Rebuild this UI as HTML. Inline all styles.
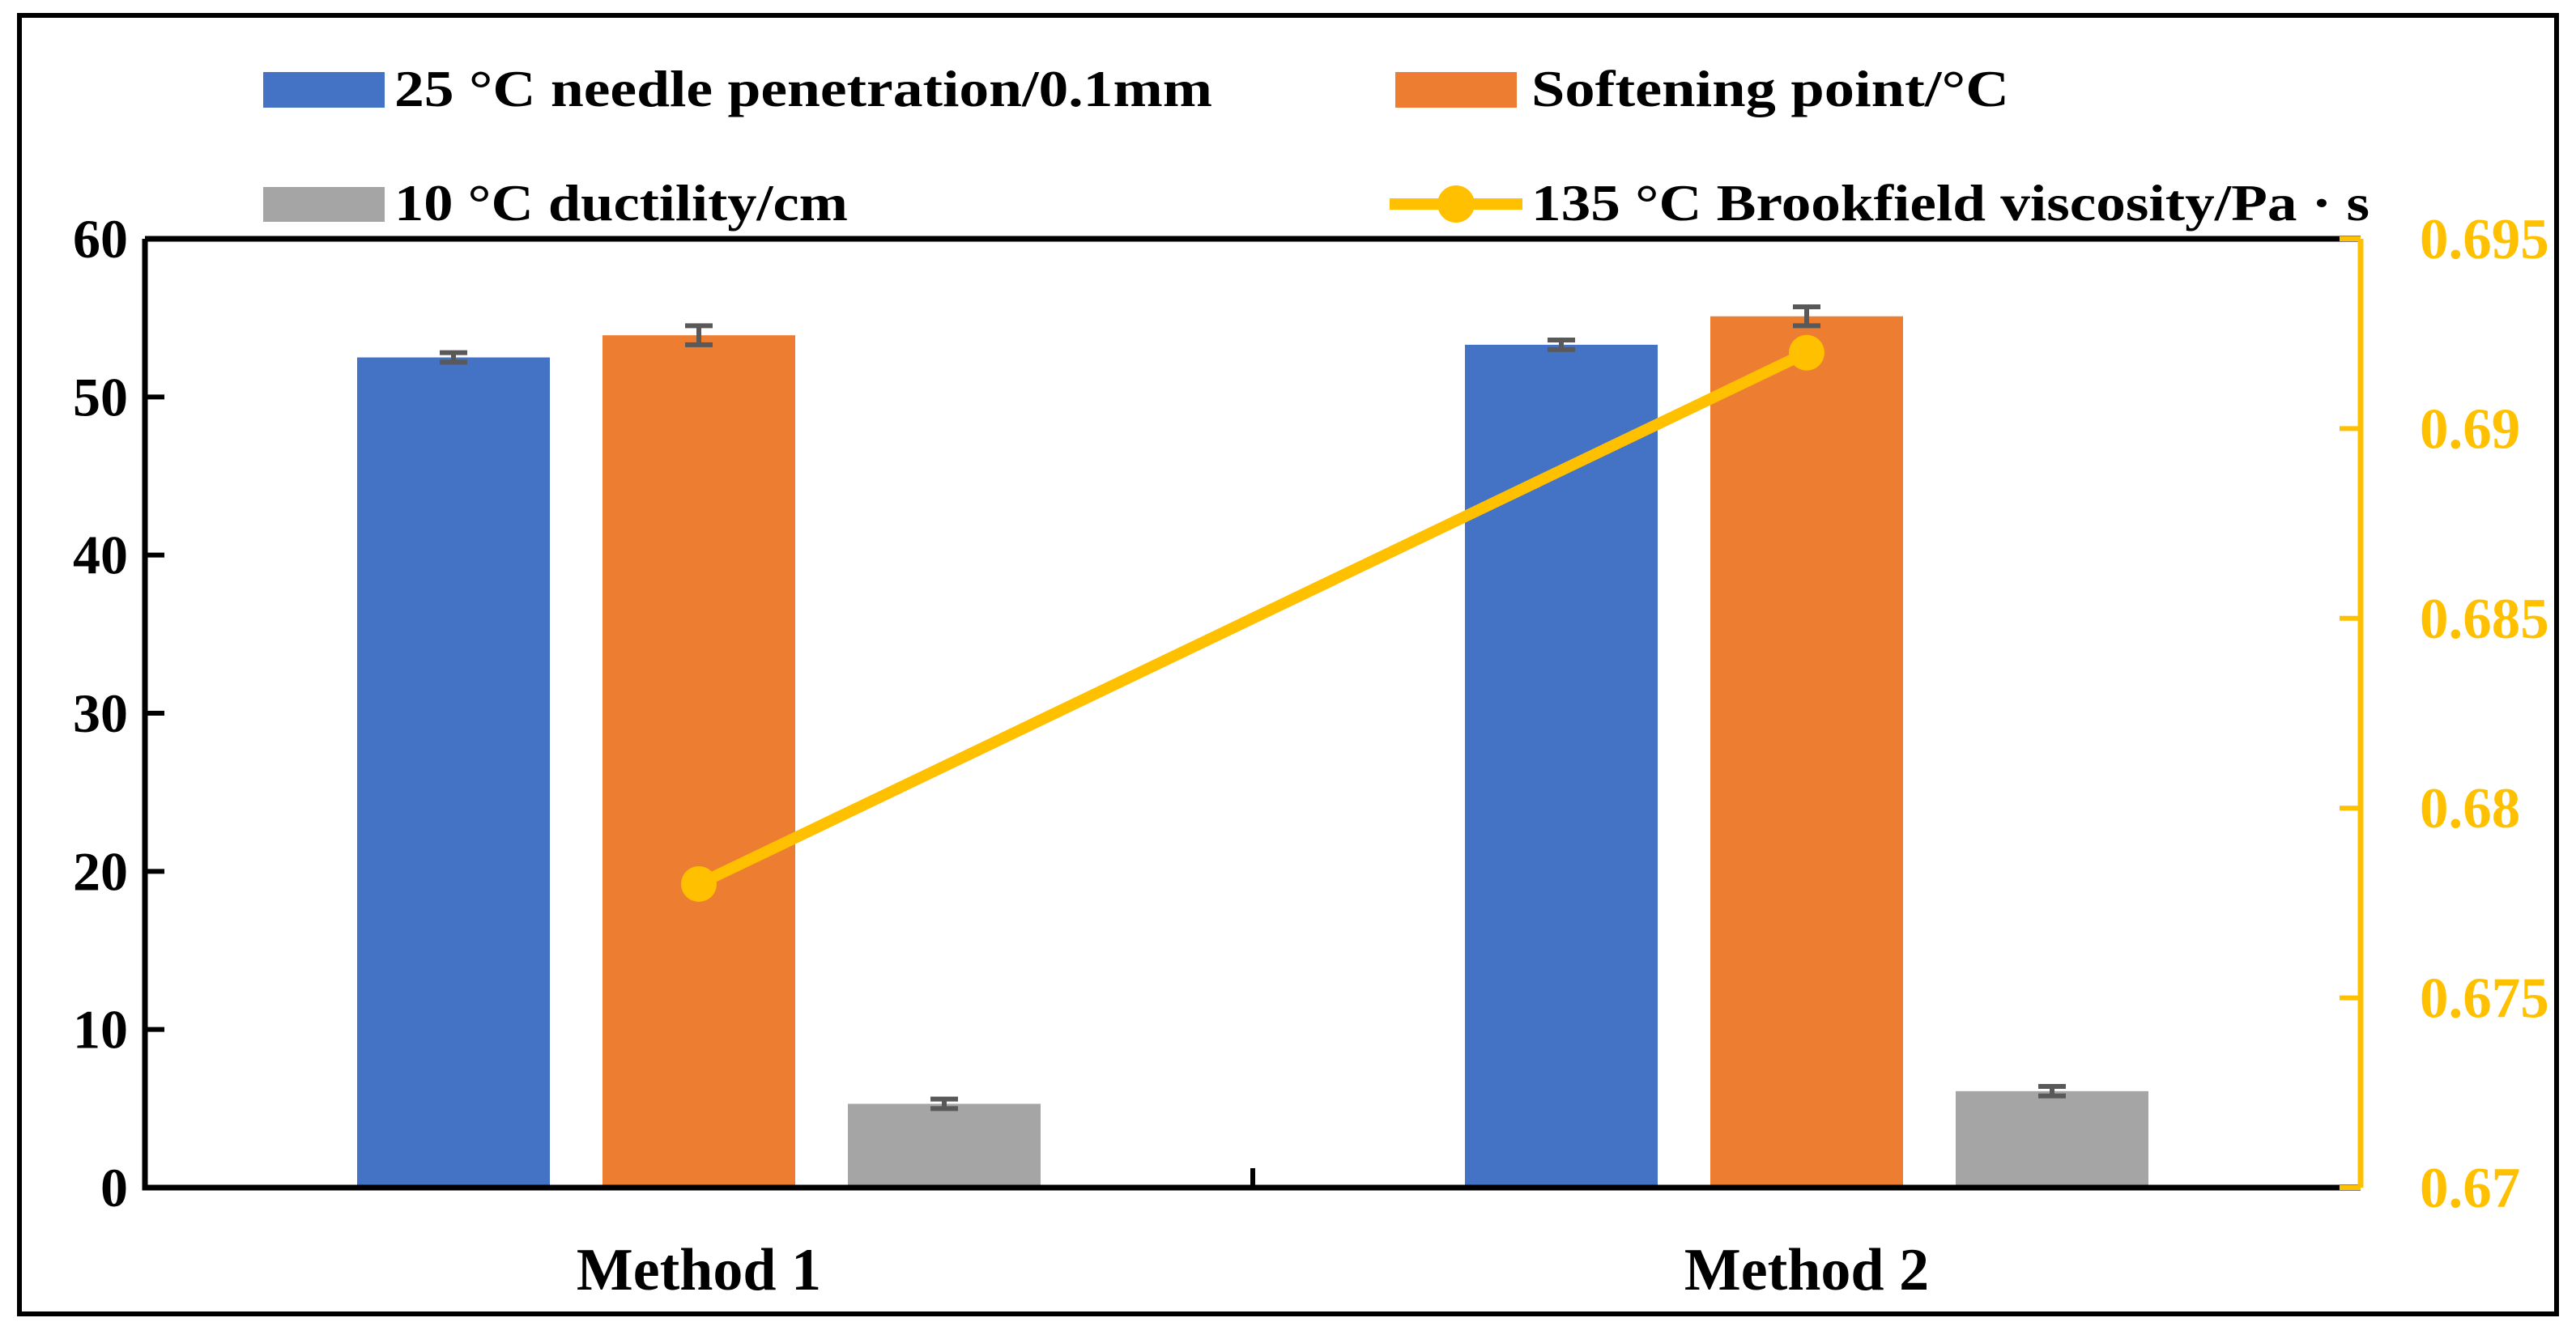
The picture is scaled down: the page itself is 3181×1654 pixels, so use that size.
<!DOCTYPE html>
<html><head><meta charset="utf-8"><style>
html,body{margin:0;padding:0;background:#fff;}
svg{display:block;font-family:"Liberation Serif",serif;font-weight:bold;}
</style></head><body>
<svg id="chart" width="3181" height="1654" viewBox="0 0 3181 1654" xmlns="http://www.w3.org/2000/svg">
<rect x="24" y="19" width="3133" height="1604" fill="none" stroke="#000" stroke-width="6"/>
<g id="legend">
 <rect x="325" y="89" width="150" height="44" fill="#4472C4"/>
 <text x="487" y="131" font-size="64" textLength="1010" lengthAdjust="spacingAndGlyphs">25 °C needle penetration/0.1mm</text>
 <rect x="1723" y="89" width="150" height="44" fill="#ED7D31"/>
 <text x="1891" y="131" font-size="64" textLength="590" lengthAdjust="spacingAndGlyphs">Softening point/°C</text>
 <rect x="325" y="231" width="150" height="43" fill="#A5A5A5"/>
 <text x="487" y="272" font-size="64" textLength="560" lengthAdjust="spacingAndGlyphs">10 °C ductility/cm</text>
 <line x1="1716" y1="252" x2="1880" y2="252" stroke="#FFC000" stroke-width="14"/>
 <circle cx="1798" cy="252" r="23" fill="#FFC000"/>
 <text x="1891" y="272" font-size="64" textLength="1035" lengthAdjust="spacingAndGlyphs">135 °C Brookfield viscosity/Pa · s</text>
</g>
<g id="plot"></g>
</svg>
<script>
const categories = ["Method 1", "Method 2"];
const penetration = [52.5, 53.3];
const penetrationErr = [0.3, 0.3];
const softening = [53.9, 55.1];
const softeningErr = [0.6, 0.6];
const ductility = [5.3, 6.1];
const ductilityErr = [0.3, 0.3];
const viscosity = [0.678, 0.692];
const leftTicks = [0, 10, 20, 30, 40, 50, 60];
const rightTicks = ["0.67", "0.675", "0.68", "0.685", "0.69", "0.695"];

const NS = "http://www.w3.org/2000/svg";
const g = document.getElementById("plot");
const L = 179, R = 2915, T = 295, B = 1467;
const yL = v => B - (v - 0) / 60 * (B - T);
const yR = v => B - (v - 0.67) / 0.025 * (B - T);
const catW = (R - L) / categories.length;
const cx = i => L + catW * (i + 0.5);
function mk(tag, attrs) { const e = document.createElementNS(NS, tag); for (const k in attrs) e.setAttribute(k, attrs[k]); g.appendChild(e); return e; }

const series = [[penetration, penetrationErr, "#4472C4", "penetration"], [softening, softeningErr, "#ED7D31", "softening"], [ductility, ductilityErr, "#A5A5A5", "ductility"]];
const bw = 238, step = 303;
series.forEach((s, si) => {
  categories.forEach((c, i) => {
    const x = cx(i) + (si - 1) * step - bw / 2;
    const r = mk("rect", { x: x, y: yL(s[0][i]), width: bw, height: B - yL(s[0][i]), fill: s[2] });
    
    
    const mx = x + bw / 2, y1 = yL(s[0][i] + s[1][i]), y2 = yL(s[0][i] - s[1][i]);
    const e = mk("path", { d: `M${mx - 17},${y1}H${mx + 17}M${mx},${y1}V${y2}M${mx - 17},${y2}H${mx + 17}`, stroke: "#595959", "stroke-width": 6, fill: "none" });
    
    
  });
});

let a = mk("path", { d: `M${L},${T}V${B}H${R}`, stroke: "#000", "stroke-width": 7, fill: "none" });


a = mk("line", { x1: L, y1: T, x2: R, y2: T, stroke: "#000", "stroke-width": 7 });


a = mk("line", { x1: R, y1: T, x2: R, y2: B, stroke: "#FFC000", "stroke-width": 7 });


a = mk("line", { x1: (L + R) / 2, y1: B - 24, x2: (L + R) / 2, y2: B, stroke: "#000", "stroke-width": 6 });



leftTicks.forEach(v => {
  const t = mk("line", { x1: L, y1: yL(v), x2: L + 24, y2: yL(v), stroke: "#000", "stroke-width": 6 });
  
  
  const tx = mk("text", { x: 158, y: yL(v) + 23, "font-size": 68, "text-anchor": "end" });
  tx.textContent = v;
  
  
});
rightTicks.forEach(v => {
  const y = yR(parseFloat(v));
  const t = mk("line", { x1: R - 26, y1: y, x2: R, y2: y, stroke: "#FFC000", "stroke-width": 6 });
  
  
  const tx = mk("text", { x: 2988, y: y + 24, "font-size": 71, fill: "#FFC000" });
  tx.textContent = v;
  
  
});
categories.forEach((c, i) => {
  const tx = mk("text", { x: cx(i), y: 1593, "font-size": 74, "text-anchor": "middle" });
  tx.textContent = c;
  
  
});

const pts = viscosity.map((v, i) => `${cx(i)},${yR(v)}`).join(" ");
const ln = mk("polyline", { points: pts, fill: "none", stroke: "#FFC000", "stroke-width": 14, "stroke-linecap": "round" });


viscosity.forEach((v, i) => {
  const c = mk("circle", { cx: cx(i), cy: yR(v), r: 22, fill: "#FFC000" });
  
  
});
</script>
</body></html>
